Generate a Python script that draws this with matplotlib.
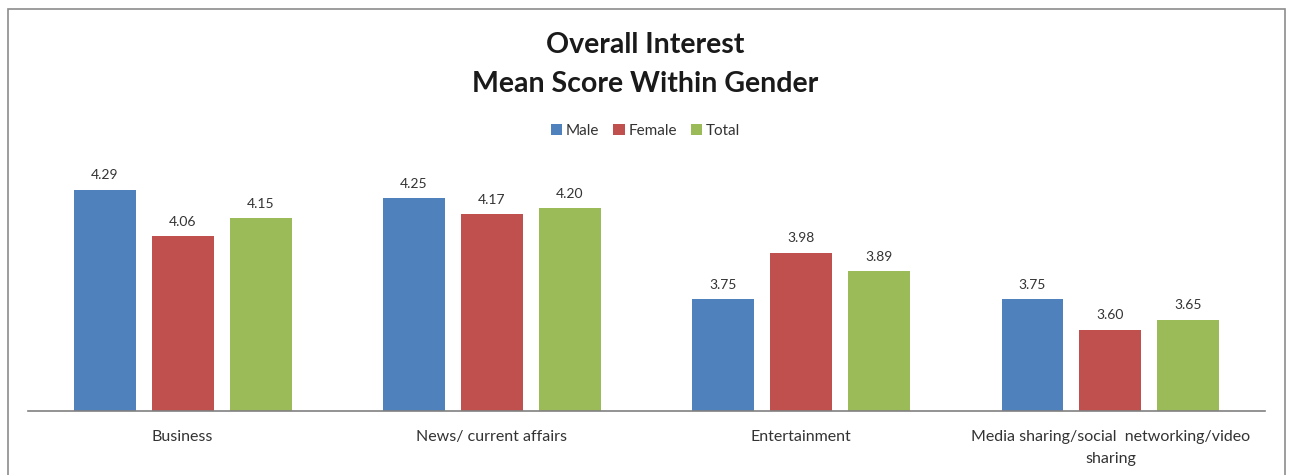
import matplotlib.pyplot as plt
import numpy as np
from matplotlib.patches import Rectangle

categories = ['Business', 'News/ current affairs', 'Entertainment',
              'Media sharing/social  networking/video\nsharing']
series = ['Male', 'Female', 'Total']
male = [4.29, 4.25, 3.75, 3.75]
female = [4.06, 4.17, 3.98, 3.60]
total = [4.15, 4.20, 3.89, 3.65]

colors = ['#4F81BD', '#C0504D', '#9BBB59']
text_color = '#333333'

plt.rcParams['font.family'] = ['Lato', 'DejaVu Sans']

fig = plt.figure(figsize=(12.91, 4.75), dpi=100)
ax = fig.add_axes([0.0217, 0.1347, 0.9582, 0.529])

x = np.arange(len(categories))
width = 0.2
offsets = [-0.252, 0.0, 0.252]

for vals, name, color, off in zip([male, female, total], series, colors, offsets):
    bars = ax.bar(x + off, vals, width, color=color, label=name, zorder=2)
    for b, v in zip(bars, vals):
        ax.annotate(f'{v:.2f}', (b.get_x() + b.get_width() / 2, v),
                    xytext=(0, 6), textcoords='offset points',
                    ha='center', va='bottom', fontsize=10, color=text_color)

ax.set_xlim(-0.5, 3.5)
ax.set_ylim(3.2, 4.438)
ax.set_xticks(x)
ax.set_xticklabels(categories, fontsize=11.5, color=text_color, linespacing=1.65)
ax.tick_params(axis='x', length=0, pad=14)
ax.set_yticks([])
for side in ['top', 'right', 'left']:
    ax.spines[side].set_visible(False)
ax.spines['bottom'].set_color('#808080')
ax.spines['bottom'].set_linewidth(1.2)

fig.text(0.5, 0.905, 'Overall Interest', ha='center', va='center',
         fontsize=20.5, fontweight='bold', color='#1a1a1a')
fig.text(0.5, 0.823, 'Mean Score Within Gender', ha='center', va='center',
         fontsize=20.5, fontweight='bold', color='#1a1a1a')

fig.legend(loc='center', bbox_to_anchor=(0.5, 0.724), ncol=3, frameon=False,
           fontsize=11, handlelength=0.75, handleheight=0.75, handletextpad=0.25,
           columnspacing=0.9, labelcolor=text_color)

# outer chart frame
fig.patches.append(Rectangle((0.0062, -0.02), 0.9892, 1.001, transform=fig.transFigure,
                             fill=False, edgecolor='#8c8c8c', linewidth=1.2))

fig.savefig('out.png', dpi=100)
